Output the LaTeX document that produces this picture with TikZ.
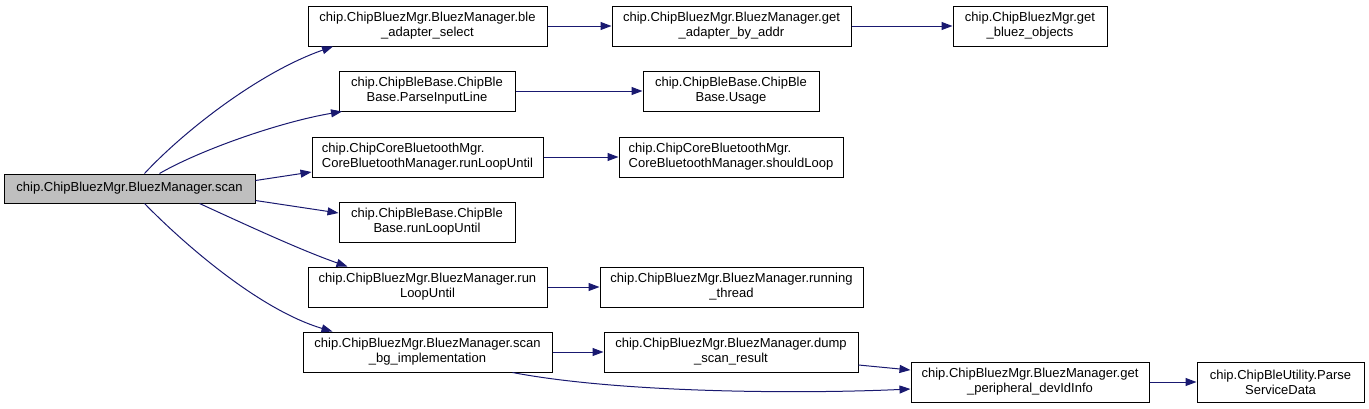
\documentclass[tikz,border=0pt]{standalone}
\usepackage{fontspec}
\setmainfont{Liberation Sans}
\usetikzlibrary{arrows.meta,calc}
\definecolor{edgeblue}{HTML}{191970}
\definecolor{mainfill}{HTML}{BFBFBF}
\tikzset{
  fn/.style={draw=black, line width=1pt, fill=white, inner sep=0pt, align=center,
    font=\fontsize{13}{15}\selectfont, text=black},
  fnl/.style={fn, align=left},
  call/.style={draw=edgeblue, line width=1pt, -{Triangle[length=11pt,width=8pt]}},
}
\begin{document}
\begin{tikzpicture}[x=1pt,y=-1pt]
\useasboundingbox (0,0) rectangle (1369,408);
\node[fn, fill=mainfill, minimum width=251pt, minimum height=29pt] (main) at (129.5,188.5) {chip.ChipBluezMgr.BluezManager.scan};
\node[fn, minimum width=239pt, minimum height=40pt] (ble) at (427.5,26) {chip.ChipBluezMgr.BluezManager.ble\\\_adapter\_select};
\node[fn, minimum width=239pt, minimum height=40pt] (adapt) at (731.5,26) {chip.ChipBluezMgr.BluezManager.get\\\_adapter\_by\_addr};
\node[fn, minimum width=154pt, minimum height=40pt] (bluez) at (1030,26) {chip.ChipBluezMgr.get\\\_bluez\_objects};
\node[fn, minimum width=176pt, minimum height=40pt] (parse) at (427,91) {chip.ChipBleBase.ChipBle\\Base.ParseInputLine};
\node[fn, minimum width=176pt, minimum height=40pt] (usage) at (731,91) {chip.ChipBleBase.ChipBle\\Base.Usage};
\node[fnl, minimum width=231pt, minimum height=40pt] (cbrun) at (427.5,157) {chip.ChipCoreBluetoothMgr.\\CoreBluetoothManager.runLoopUntil};
\node[fnl, minimum width=224pt, minimum height=40pt] (should) at (731,157) {chip.ChipCoreBluetoothMgr.\\CoreBluetoothManager.shouldLoop};
\node[fn, minimum width=176pt, minimum height=40pt] (cbbrun) at (427,222) {chip.ChipBleBase.ChipBle\\Base.runLoopUntil};
\node[fn, minimum width=239pt, minimum height=40pt] (brun) at (427.5,287) {chip.ChipBluezMgr.BluezManager.run\\LoopUntil};
\node[fn, minimum width=263pt, minimum height=40pt] (running) at (731.5,287) {chip.ChipBluezMgr.BluezManager.running\\\_thread};
\node[fn, minimum width=249pt, minimum height=40pt] (scanbg) at (427.5,352) {chip.ChipBluezMgr.BluezManager.scan\\\_bg\_implementation};
\node[fn, minimum width=254pt, minimum height=40pt] (dump) at (731,352) {chip.ChipBluezMgr.BluezManager.dump\\\_scan\_result};
\node[fn, minimum width=238pt, minimum height=40pt] (periph) at (1030,382) {chip.ChipBluezMgr.BluezManager.get\\\_peripheral\_devIdInfo};
\node[fn, minimum width=167pt, minimum height=40pt] (psd) at (1280.5,382) {chip.ChipBleUtility.Parse\\ServiceData};

% edges from main
\draw[call] ($(main.north)+(15,0)$) .. controls (185,130) and (260,72) .. ($(ble.south)+(-94.5,0)$);
\draw[call] ($(main.north)+(30,0)$) .. controls (200,150) and (280,122) .. ($(parse.south)+(-85,0)$);
\draw[call] ($(main.east)+(0,-8)$) -- ($(cbrun.west)+(0,15)$);
\draw[call] ($(main.east)+(0,12)$) -- ($(cbbrun.west)+(0,-9)$);
\draw[call] ($(main.south)+(70,0)$) .. controls (240,222) and (300,250) .. ($(brun.north)+(-80,0)$);
\draw[call] ($(main.south)+(15,0)$) .. controls (185,245) and (260,310) .. ($(scanbg.north)+(-95,0)$);
% other edges
\draw[call] (ble.east) -- (adapt.west);
\draw[call] (adapt.east) -- (bluez.west);
\draw[call] (parse.east) -- (usage.west);
\draw[call] (cbrun.east) -- (should.west);
\draw[call] (brun.east) -- (running.west);
\draw[call] (scanbg.east) -- (dump.west);
\draw[call] ($(dump.east)+(0,13)$) -- ($(periph.west)+(0,-12)$);
\draw[call] ($(scanbg.south)+(85,0)$) .. controls (620,393) and (800,394) .. ($(periph.west)+(0,7)$);
\draw[call] (periph.east) -- (psd.west);
\end{tikzpicture}
\end{document}
